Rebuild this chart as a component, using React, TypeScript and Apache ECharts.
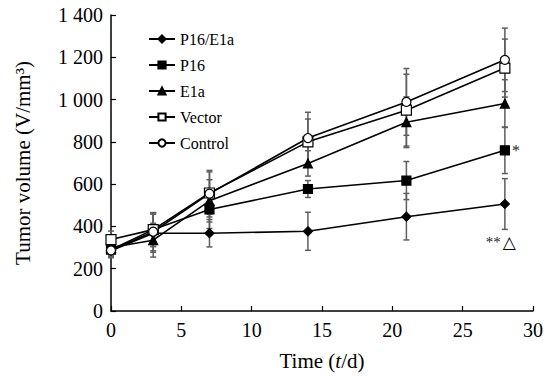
import React, { useEffect, useRef } from "react";
import * as echarts from "echarts";

const days = [0, 3, 7, 14, 21, 28];
const seriesNames = ["P16/E1a", "P16", "E1a", "Vector", "Control"];
const p16e1a = [285, 368, 368, 377, 446, 506];
const p16e1aErr = [30, 90, 65, 90, 110, 120];
const p16 = [290, 385, 480, 577, 617, 760];
const p16Err = [30, 80, 90, 40, 90, 110];
const e1a = [300, 335, 521, 698, 893, 981];
const e1aErr = [40, 80, 100, 60, 120, 113];
const vector = [338, 385, 558, 800, 950, 1149];
const vectorErr = [40, 80, 100, 108, 170, 137];
const control = [287, 375, 555, 818, 989, 1188];
const controlErr = [35, 90, 110, 122, 158, 150];

const FONT = "Liberation Serif";

function fmtY(v: number): string {
  if (v >= 1000) {
    const t = Math.floor(v / 1000);
    const r = String(v % 1000).padStart(3, "0");
    return t + " " + r;
  }
  return String(v);
}

function errData(vals: number[], errs: number[]) {
  return days.map((d, i) => [d, vals[i] - errs[i], vals[i] + errs[i]]);
}

function errSeries(vals: number[], errs: number[]) {
  return {
    type: "custom",
    silent: true,
    z: 1,
    data: errData(vals, errs),
    encode: { x: 0, y: [1, 2] },
    renderItem: (params: any, api: any) => {
      const x = api.value(0);
      const lo = api.coord([x, api.value(1)]);
      const hi = api.coord([x, api.value(2)]);
      const w = 3;
      const st = { stroke: "#5e5e5e", lineWidth: 1.5 };
      return {
        type: "group",
        children: [
          { type: "line", shape: { x1: lo[0], y1: lo[1], x2: hi[0], y2: hi[1] }, style: st },
          { type: "line", shape: { x1: lo[0] - w, y1: lo[1], x2: lo[0] + w, y2: lo[1] }, style: st },
          { type: "line", shape: { x1: hi[0] - w, y1: hi[1], x2: hi[0] + w, y2: hi[1] }, style: st },
        ],
      };
    },
  };
}

function lineSeries(name: string, vals: number[], symbol: string, size: number, fill: string, extra?: (d: any, i: number) => any) {
  return {
    name,
    type: "line",
    z: 3,
    symbol,
    symbolSize: size,
    showSymbol: true,
    lineStyle: { color: "#000", width: 1.6 },
    itemStyle: { color: fill, borderColor: "#000", borderWidth: 1.2 },
    data: days.map((d, i) => {
      const item: any = { value: [d, vals[i]] };
      return extra ? extra(item, i) : item;
    }),
  };
}

export default function App() {
  const ref = useRef<HTMLDivElement>(null);
  useEffect(() => {
    if (!ref.current) return;
    const chart = echarts.init(ref.current, null, { renderer: "svg" });
    const last = days.length - 1;
    chart.setOption({
      animation: false,
      backgroundColor: "#fff",
      textStyle: { fontFamily: FONT, color: "#000", fontWeight: "normal" },
      grid: { left: 111, right: 19, top: 15, bottom: 60, containLabel: false },
      legend: {
        data: seriesNames,
        orient: "vertical",
        left: 143,
        top: 26,
        itemGap: 10,
        itemWidth: 26,
        itemHeight: 9,
        textStyle: { fontFamily: FONT, fontSize: 16, color: "#000", fontWeight: "normal" },
      },
      xAxis: {
        type: "value",
        min: 0,
        max: 30,
        interval: 5,
        name: "{a|Time (}{i|t}{a|/d)}",
        nameLocation: "middle",
        nameGap: 39,
        nameTextStyle: {
          fontFamily: FONT,
          fontSize: 21,
          fontWeight: "normal",
          rich: {
            a: { fontFamily: FONT, fontSize: 21, fontWeight: "normal", color: "#000" },
            i: { fontFamily: FONT, fontSize: 21, fontStyle: "italic", fontWeight: "normal", color: "#000" },
          },
        },
        axisLine: { lineStyle: { color: "#000", width: 1.5 } },
        axisTick: { inside: true, length: 5, lineStyle: { color: "#000", width: 1.2 } },
        axisLabel: { fontFamily: FONT, fontSize: 20, color: "#000", margin: 9 },
        splitLine: { show: false },
      },
      yAxis: {
        type: "value",
        min: 0,
        max: 1400,
        interval: 200,
        name: "Tumor volume (V/mm³)",
        nameLocation: "middle",
        nameGap: 78,
        nameTextStyle: { fontFamily: FONT, fontSize: 21, color: "#000", fontWeight: "normal" },
        axisLine: { show: true, lineStyle: { color: "#000", width: 1.5 } },
        axisTick: { show: true, inside: true, length: 5, lineStyle: { color: "#000", width: 1.2 } },
        axisLabel: { fontFamily: FONT, fontSize: 20, color: "#000", margin: 8, formatter: (v: number) => fmtY(v) },
        splitLine: { show: false },
      },
      series: [
        errSeries(p16e1a, p16e1aErr),
        errSeries(p16, p16Err),
        errSeries(e1a, e1aErr),
        errSeries(vector, vectorErr),
        errSeries(control, controlErr),
        lineSeries("P16/E1a", p16e1a, "diamond", 9, "#000", (item, i) =>
          i === last
            ? {
                ...item,
                label: {
                  show: true,
                  position: "bottom",
                  distance: 24,
                  offset: [-4, 0],
                  color: "#222",
                  formatter: "{s|**}{t|△}",
                  rich: {
                    s: { fontFamily: FONT, fontSize: 15, color: "#222", padding: [0, 2, 0, 0] },
                    t: { fontFamily: "DejaVu Sans", fontSize: 17, color: "#000" },
                  },
                },
              }
            : item
        ),
        lineSeries("P16", p16, "rect", 9, "#000", (item, i) =>
          i === last
            ? {
                ...item,
                label: { show: true, position: "right", distance: 2, formatter: "*", fontFamily: FONT, fontSize: 16, color: "#222" },
              }
            : item
        ),
        lineSeries("E1a", e1a, "triangle", 9, "#000"),
        lineSeries("Vector", vector, "rect", 10, "#fff"),
        lineSeries("Control", control, "circle", 9, "#fff"),
      ],
    });
    return () => chart.dispose();
  }, []);
  return <div ref={ref} style={{ width: 552, height: 376, position: "absolute", left: 0, top: 0 }} />;
}
